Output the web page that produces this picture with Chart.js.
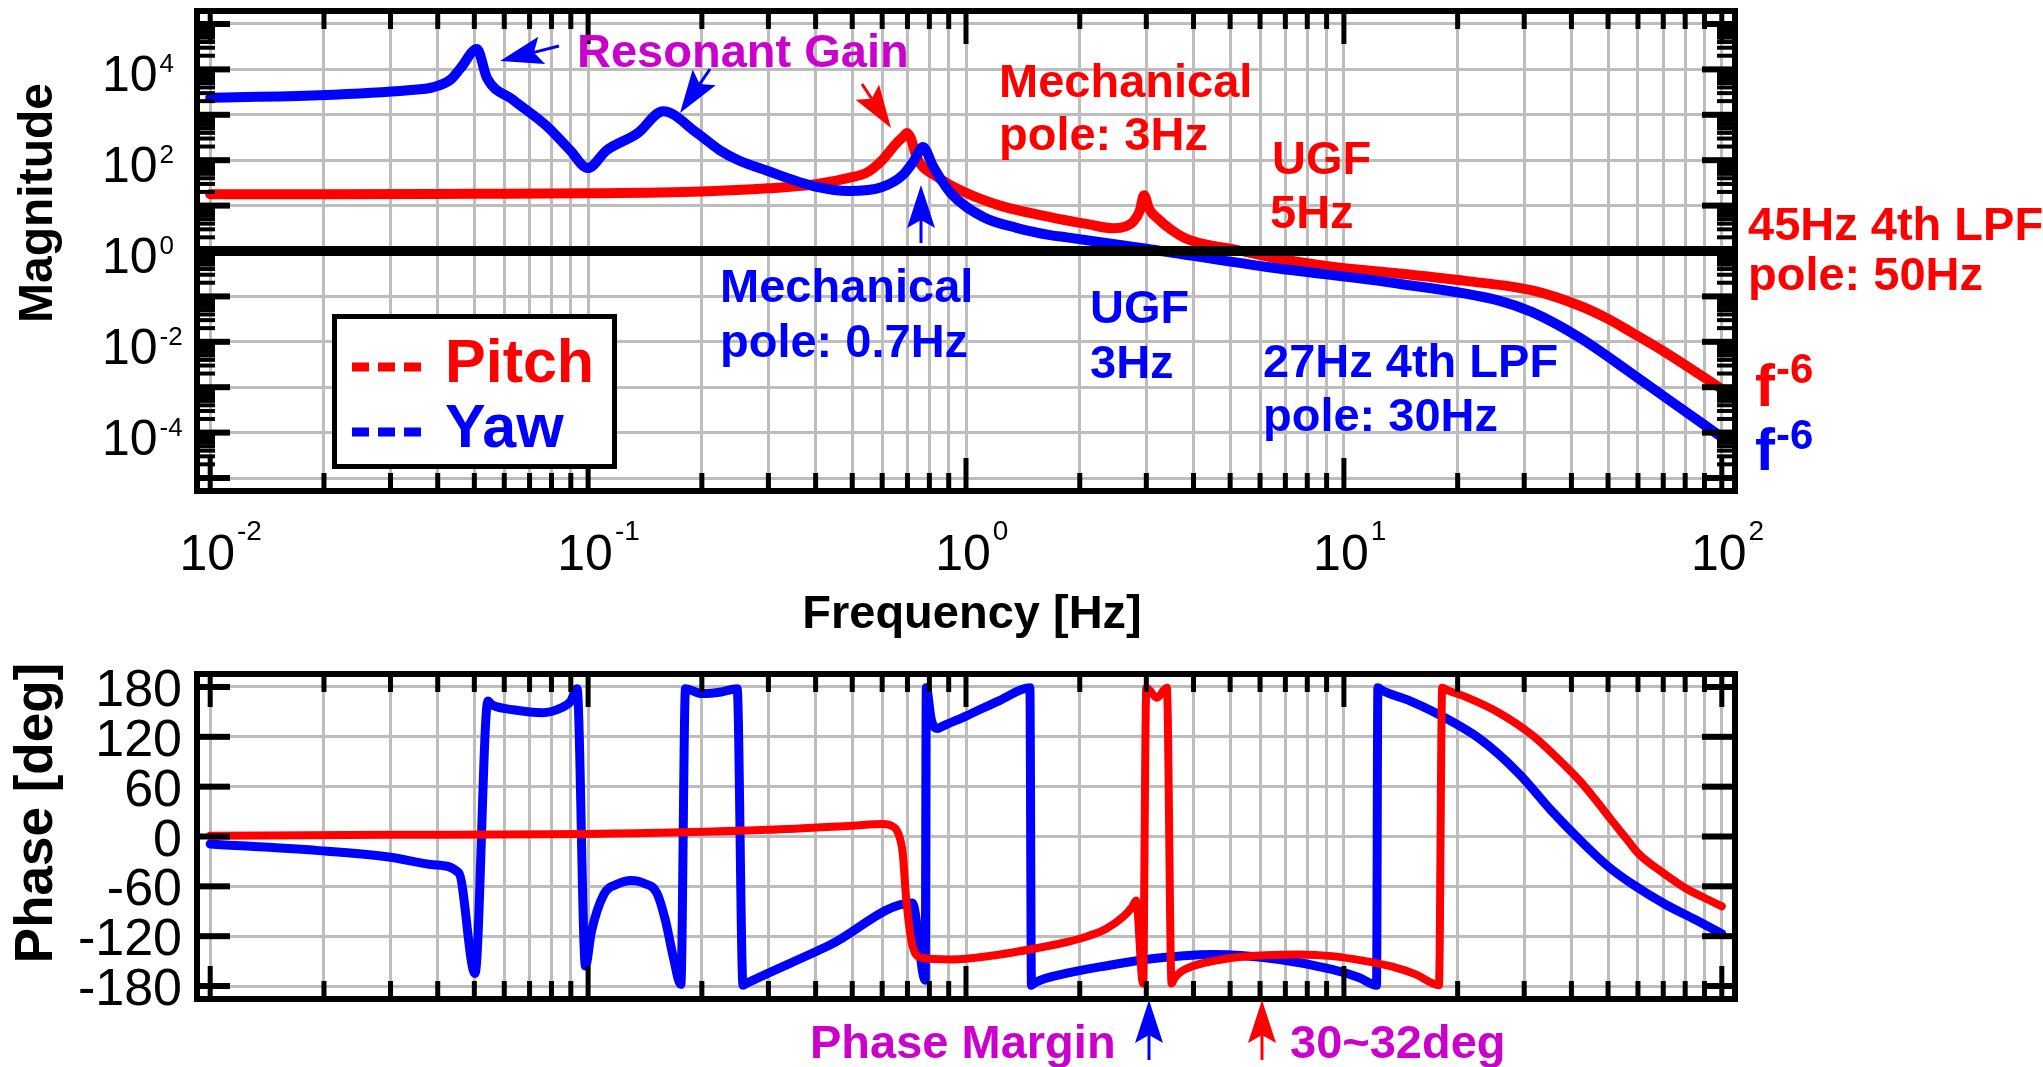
<!DOCTYPE html>
<html>
<head>
<meta charset="utf-8">
<script src="https://cdn.jsdelivr.net/npm/chart.js@4.4.1/dist/chart.umd.min.js"></script>
<style>
  html, body { margin: 0; padding: 0; background: #fff; }
  body { width: 2043px; height: 1067px; position: relative; overflow: hidden; }
  #magBox { position: absolute; left: 0; top: 0; width: 2043px; height: 640px; }
  #phaseBox { position: absolute; left: 0; top: 640px; width: 2043px; height: 427px; }
</style>
</head>
<body>
<div id="magBox"><canvas id="magChart"></canvas></div>
<div id="phaseBox"><canvas id="phaseChart"></canvas></div>
<script>
// ---- data ----
const pitchMagFreq = [0.01, 0.02, 0.05, 0.1, 0.2, 0.3, 0.4, 0.49, 0.55, 0.6, 0.656, 0.685, 0.698, 0.715, 0.74, 0.84, 1.0, 1.23, 1.67, 2.1, 2.45, 2.65, 2.77, 2.88, 2.96, 3.05, 3.25, 3.5, 3.83, 4.4, 5.08, 6.5, 9.3, 14, 21, 31.5, 41.9, 50, 57.8, 70.8, 100];
const pitchMag = [17.8, 17.8, 18.2, 18.6, 20.4, 24, 29.5, 40.7, 55, 100, 240, 340, 398, 300, 117, 42.7, 19.1, 10, 5.6, 3.9, 3.16, 3.5, 4.4, 7.5, 17, 8.5, 4.8, 2.9, 1.86, 1.35, 1.1, 0.71, 0.45, 0.32, 0.22, 0.135, 0.063, 0.032, 0.016, 0.0059, 0.00091];

const yawMagFreq = [0.01, 0.0194, 0.0334, 0.039, 0.0432, 0.046, 0.0508, 0.054, 0.0633, 0.078, 0.0896, 0.0998, 0.112, 0.135, 0.158, 0.194, 0.223, 0.25, 0.295, 0.403, 0.49, 0.6, 0.68, 0.73, 0.769, 0.82, 0.91, 1.11, 1.36, 1.67, 1.85, 3.0, 6.2, 14, 25.7, 31.5, 41.9, 57.8, 70.8, 100];
const yawMag = [2370, 2690, 3470, 4070, 5900, 10700, 28000, 6460, 2140, 550, 166, 67, 166, 389, 1200, 400, 166, 100, 60, 25.7, 20.9, 25.7, 46.8, 100, 195, 70.8, 19.1, 5.6, 3.24, 2.24, 2.0, 1.12, 0.45, 0.19, 0.081, 0.045, 0.0126, 0.002, 0.0006, 0.000079];

const pitchPhaseFreq = [0.01, 0.03, 0.1, 0.3, 0.5, 0.6, 0.64, 0.66, 0.68, 0.694, 0.721, 0.764, 0.91, 1.23, 1.6, 1.85, 2.1, 2.35, 2.6, 2.75, 2.82, 2.94, 3.0, 3.2, 3.4, 3.5, 3.56, 3.7, 3.98, 4.5, 5.08, 6.2, 7.6, 9.3, 11.4, 13.5, 15.5, 17.85, 18.2, 18.8, 21, 25.7, 31.5, 36, 41.9, 46, 51, 56, 60, 70, 80, 90, 100];
const pitchPhase = [1, 2, 3, 8, 13, 15, 12, 5, -20, -73, -131, -146, -148, -142, -133, -127, -120, -111, -97, -85, -77, -177, 179, 167, 179, -177, -171, -163, -156, -150, -146, -143, -142, -144, -150, -157, -166, -179, 179, 176, 168, 149, 122, 98, 68, 46, 20, -3, -20, -44, -62, -74, -84];

const yawPhaseFreq = [0.01, 0.0194, 0.03, 0.039, 0.0455, 0.0502, 0.0543, 0.0555, 0.0575, 0.0622, 0.0755, 0.085, 0.09, 0.0935, 0.0984, 0.102, 0.11, 0.12, 0.13, 0.14, 0.152, 0.16, 0.168, 0.176, 0.181, 0.2, 0.225, 0.248, 0.257, 0.262, 0.435, 0.721, 0.78, 0.785, 0.81, 0.843, 0.86, 1.0, 1.23, 1.476, 1.49, 1.52, 1.85, 2.4, 2.99, 4.5, 6.75, 9.3, 11, 12.2, 12.3, 12.6, 15, 17.1, 22.8, 29, 35.5, 43.6, 50, 57.8, 70.8, 85, 100];
const yawPhase = [-9, -17, -25, -34, -44, -165, 163, 159, 156, 153, 149, 155, 163, 178, -156, -115, -70, -57, -53, -56, -68, -100, -145, -178, 178, 172, 174, 178, -179, -177, -131, -80, -173, 179, 140, 130, 132, 145, 164, 179, -179, -176, -164.6, -155, -148, -142, -148, -160, -170, -179, 179, 176, 163, 151, 118, 76, 30.5, -11, -36, -57, -81.6, -100, -117];

const freqDecades = [-2, -1, 0, 1, 2];
const magLabelDecades = [4, 2, 0, -2, -4];
const magGridDecades = [-5, -4, -3, -2, -1, 0, 1, 2, 3, 4, 5];
const phaseTicks = [180, 120, 60, 0, -60, -120, -180];
const unityGain = 1;

// ---- style ----
const RED = '#ff0000', BLUE = '#0000ff', MAGENTA = '#cc00cc';
const GRID = '#bdbdbd';
const FONT = '"Liberation Sans", Arial, Helvetica, sans-serif';

const pts = (fs, vs) => fs.map((f, i) => ({ x: f, y: vs[i] }));

const xGrid = [];
for (let d = -2; d <= 1; d++) for (let m = 1; m <= 9; m++) xGrid.push(+(m * Math.pow(10, d)).toPrecision(3));
xGrid.push(100);

const magMinor = [];
magGridDecades.forEach(d => { for (let m = 2; m <= 9; m++) magMinor.push(m * Math.pow(10, d)); });

function logX() {
  return {
    type: 'logarithmic',
    min: Math.pow(10, -2.027), max: Math.pow(10, 2.027),
    afterBuildTicks: s => { s.ticks = xGrid.map(v => ({ value: v })); },
    afterFit: s => { s.height = 0; },
    ticks: { display: false },
    grid: { color: GRID, lineWidth: 3, drawTicks: false },
    border: { display: false }
  };
}

function drawArrow(ctx, x1, y1, x2, y2, color) {
  const L = 43, W = 14, back = 8;
  const a = Math.atan2(y2 - y1, x2 - x1);
  const ux = Math.cos(a), uy = Math.sin(a), px = -uy, py = ux;
  ctx.save();
  ctx.strokeStyle = color; ctx.fillStyle = color; ctx.lineWidth = 3;
  ctx.beginPath(); ctx.moveTo(x1, y1); ctx.lineTo(x2 - ux * (L - back), y2 - uy * (L - back)); ctx.stroke();
  ctx.beginPath();
  ctx.moveTo(x2, y2);
  ctx.lineTo(x2 - ux * L + px * W, y2 - uy * L + py * W);
  ctx.lineTo(x2 - ux * (L - back), y2 - uy * (L - back));
  ctx.lineTo(x2 - ux * L - px * W, y2 - uy * L - py * W);
  ctx.closePath(); ctx.fill();
  ctx.restore();
}

function drawText(ctx, it) {
  ctx.save();
  ctx.fillStyle = it.color || '#000';
  ctx.font = it.font || ('bold 47px ' + FONT);
  ctx.textAlign = it.align || 'left';
  ctx.textBaseline = 'alphabetic';
  ctx.translate(it.x, it.y);
  if (it.rot) ctx.rotate(it.rot);
  ctx.fillText(it.text, 0, 0);
  if (it.sup) {
    const w = ctx.measureText(it.text).width;
    const start = ctx.textAlign === 'center' ? w / 2 : (ctx.textAlign === 'right' ? 0 : w);
    ctx.font = it.supFont;
    ctx.textAlign = 'left';
    ctx.fillText(it.sup, start + (it.supDx || 0), it.supDy);
  }
  ctx.restore();
}

// frame, inner ticks and the unity-gain line
const framePlugin = {
  id: 'frame',
  afterDatasetsDraw(chart, args, o) {
    const { ctx, chartArea: a, scales: { x, y } } = chart;
    ctx.save();
    if (o.unity) {
      const py = y.getPixelForValue(o.unity);
      ctx.strokeStyle = '#000'; ctx.lineWidth = 10;
      ctx.beginPath(); ctx.moveTo(a.left, py); ctx.lineTo(a.right, py); ctx.stroke();
    }
    ctx.fillStyle = '#000';
    xGrid.forEach(v => {
      const px = x.getPixelForValue(v);
      const major = Math.abs(Math.log10(v) - Math.round(Math.log10(v))) < 1e-6;
      const len = major ? 30 : 15;
      ctx.fillRect(px - 2.5, a.top, 5, len);
      ctx.fillRect(px - 2.5, a.bottom - len, 5, len);
    });
    o.yMajor.forEach(v => {
      const py = y.getPixelForValue(v);
      ctx.fillRect(a.left, py - 3, 30, 6);
      ctx.fillRect(a.right - 30, py - 3, 30, 6);
    });
    (o.yMinor || []).forEach(v => {
      const py = y.getPixelForValue(v);
      if (py < a.top || py > a.bottom) return;
      ctx.fillRect(a.left, py - 2, 15, 4);
      ctx.fillRect(a.right - 15, py - 2, 15, 4);
    });
    ctx.strokeStyle = '#000'; ctx.lineWidth = 6;
    ctx.strokeRect(a.left - 3, a.top - 3, a.right - a.left + 6, a.bottom - a.top + 6);
    ctx.restore();
  }
};

// tick labels, legend, annotations and arrows
const notesPlugin = {
  id: 'notes',
  afterDraw(chart, args, o) {
    const { ctx } = chart;
    if (o.draw) o.draw(chart, ctx);
    (o.texts || []).forEach(t => drawText(ctx, t));
    (o.arrows || []).forEach(ar => drawArrow(ctx, ...ar));
  }
};

const magTexts = [
  { text: 'Resonant Gain', x: 577, y: 67, color: MAGENTA },
  { text: 'Mechanical', x: 999, y: 97, color: RED },
  { text: 'pole: 3Hz', x: 999, y: 150, color: RED },
  { text: 'UGF', x: 1272, y: 174, color: RED },
  { text: '5Hz', x: 1270, y: 228, color: RED },
  { text: '45Hz 4th LPF', x: 1748, y: 240, color: RED },
  { text: 'pole: 50Hz', x: 1748, y: 290, color: RED },
  { text: 'Mechanical', x: 720, y: 302, color: BLUE },
  { text: 'pole: 0.7Hz', x: 720, y: 357, color: BLUE },
  { text: 'UGF', x: 1090, y: 323, color: BLUE },
  { text: '3Hz', x: 1090, y: 378, color: BLUE },
  { text: '27Hz 4th LPF', x: 1263, y: 377, color: BLUE },
  { text: 'pole: 30Hz', x: 1263, y: 431, color: BLUE },
  { text: 'f', x: 1755, y: 406, color: RED, font: 'bold 60px ' + FONT, sup: '-6', supFont: 'bold 42px ' + FONT, supDx: 1, supDy: -23 },
  { text: 'f', x: 1755, y: 470, color: BLUE, font: 'bold 60px ' + FONT, sup: '-6', supFont: 'bold 42px ' + FONT, supDx: 1, supDy: -21 },
  { text: 'Frequency [Hz]', x: 972, y: 628, align: 'center', color: '#000' },
  { text: 'Magnitude', x: 52, y: 203, align: 'center', rot: -Math.PI / 2, color: '#000', font: 'bold 48px ' + FONT }
];
const magArrows = [
  [559, 46, 500, 61, BLUE],
  [710, 69, 680, 113, BLUE],
  [862, 84, 891, 128, RED],
  [921, 243, 921, 185, BLUE]
];

function drawMagExtras(chart, ctx) {
  const { scales: { x, y } } = chart;
  // x tick labels
  freqDecades.forEach(d => {
    const px = x.getPixelForValue(Math.pow(10, d));
    drawText(ctx, { text: '10', x: px - 3, y: 570, align: 'center', font: '50px ' + FONT,
      sup: String(d), supFont: '28px ' + FONT, supDx: 2, supDy: -30 });
  });
  // y tick labels
  magLabelDecades.forEach(d => {
    const py = y.getPixelForValue(Math.pow(10, d));
    drawText(ctx, { text: '10', x: 102, y: py + 22, font: '50px ' + FONT,
      sup: String(d), supFont: '26px ' + FONT, supDx: 2, supDy: -19 });
  });
  // legend box
  ctx.save();
  ctx.fillStyle = '#fff';
  ctx.fillRect(334, 316, 281, 151);
  ctx.strokeStyle = '#000'; ctx.lineWidth = 5;
  ctx.strokeRect(334.5, 316.5, 280, 150);
  const ds = chart.data.datasets;
  [[ds[0], 367, 382], [ds[1], 432, 447]].forEach(([d, ly, ty]) => {
    ctx.strokeStyle = d.borderColor; ctx.lineWidth = 9; ctx.setLineDash([17, 9]);
    ctx.beginPath(); ctx.moveTo(352, ly); ctx.lineTo(421, ly); ctx.stroke();
    ctx.setLineDash([]);
    ctx.fillStyle = d.borderColor; ctx.font = 'bold 61px ' + FONT; ctx.textAlign = 'left';
    ctx.fillText(d.label, 445, ty);
  });
  ctx.restore();
}

function drawPhaseExtras(chart, ctx) {
  const { scales: { y } } = chart;
  phaseTicks.forEach(v => {
    const py = y.getPixelForValue(v);
    drawText(ctx, { text: String(v), x: 182, y: py + 19, align: 'right', font: '52px ' + FONT });
  });
}

new Chart(document.getElementById('magChart'), {
  type: 'line',
  data: {
    datasets: [
      { label: 'Pitch', data: pts(pitchMagFreq, pitchMag), borderColor: RED, borderWidth: 10, order: 2, cubicInterpolationMode: 'monotone' },
      { label: 'Yaw', data: pts(yawMagFreq, yawMag), borderColor: BLUE, borderWidth: 10, order: 1, cubicInterpolationMode: 'monotone' }
    ]
  },
  options: {
    responsive: true, maintainAspectRatio: false, animation: false, devicePixelRatio: 1,
    parsing: false,
    elements: { point: { radius: 0 }, line: { borderCapStyle: 'round', borderJoinStyle: 'round', fill: false } },
    layout: { padding: { left: 200, right: 311, top: 14, bottom: 152 } },
    scales: {
      x: logX(),
      y: {
        type: 'logarithmic', min: Math.pow(10, -5.22), max: Math.pow(10, 5.22),
        afterBuildTicks: s => { s.ticks = magGridDecades.map(d => ({ value: Math.pow(10, d) })); },
        afterFit: s => { s.width = 0; },
        ticks: { display: false },
        grid: { color: GRID, lineWidth: 3, drawTicks: false },
        border: { display: false }
      }
    },
    plugins: {
      legend: { display: false }, tooltip: { enabled: false },
      frame: { unity: unityGain, yMajor: magGridDecades.map(d => Math.pow(10, d)), yMinor: magMinor },
      notes: { texts: magTexts, arrows: magArrows, draw: drawMagExtras }
    }
  },
  plugins: [framePlugin, notesPlugin]
});

new Chart(document.getElementById('phaseChart'), {
  type: 'line',
  data: {
    datasets: [
      { label: 'Pitch', data: pts(pitchPhaseFreq, pitchPhase), borderColor: RED, borderWidth: 8, order: 1, cubicInterpolationMode: 'monotone' },
      { label: 'Yaw', data: pts(yawPhaseFreq, yawPhase), borderColor: BLUE, borderWidth: 9, order: 2, cubicInterpolationMode: 'monotone' }
    ]
  },
  options: {
    responsive: true, maintainAspectRatio: false, animation: false, devicePixelRatio: 1,
    parsing: false,
    elements: { point: { radius: 0 }, line: { borderCapStyle: 'round', borderJoinStyle: 'round', fill: false } },
    layout: { padding: { left: 200, right: 311, top: 37, bottom: 71 } },
    scales: {
      x: logX(),
      y: {
        type: 'linear', min: -192, max: 192,
        afterBuildTicks: s => { s.ticks = phaseTicks.map(v => ({ value: v })); },
        afterFit: s => { s.width = 0; },
        ticks: { display: false },
        grid: { color: GRID, lineWidth: 3, drawTicks: false },
        border: { display: false }
      }
    },
    plugins: {
      legend: { display: false }, tooltip: { enabled: false },
      frame: { yMajor: phaseTicks },
      notes: {
        texts: [
          { text: 'Phase [deg]', x: 52, y: 173, align: 'center', rot: -Math.PI / 2, color: '#000', font: 'bold 53px ' + FONT },
          { text: 'Phase Margin', x: 810, y: 418, color: MAGENTA },
          { text: '30~32deg', x: 1290, y: 418, color: MAGENTA }
        ],
        arrows: [[1149, 420, 1149, 360, BLUE], [1262, 420, 1262, 360, RED]],
        draw: drawPhaseExtras
      }
    }
  },
  plugins: [framePlugin, notesPlugin]
});
</script>
</body>
</html>
